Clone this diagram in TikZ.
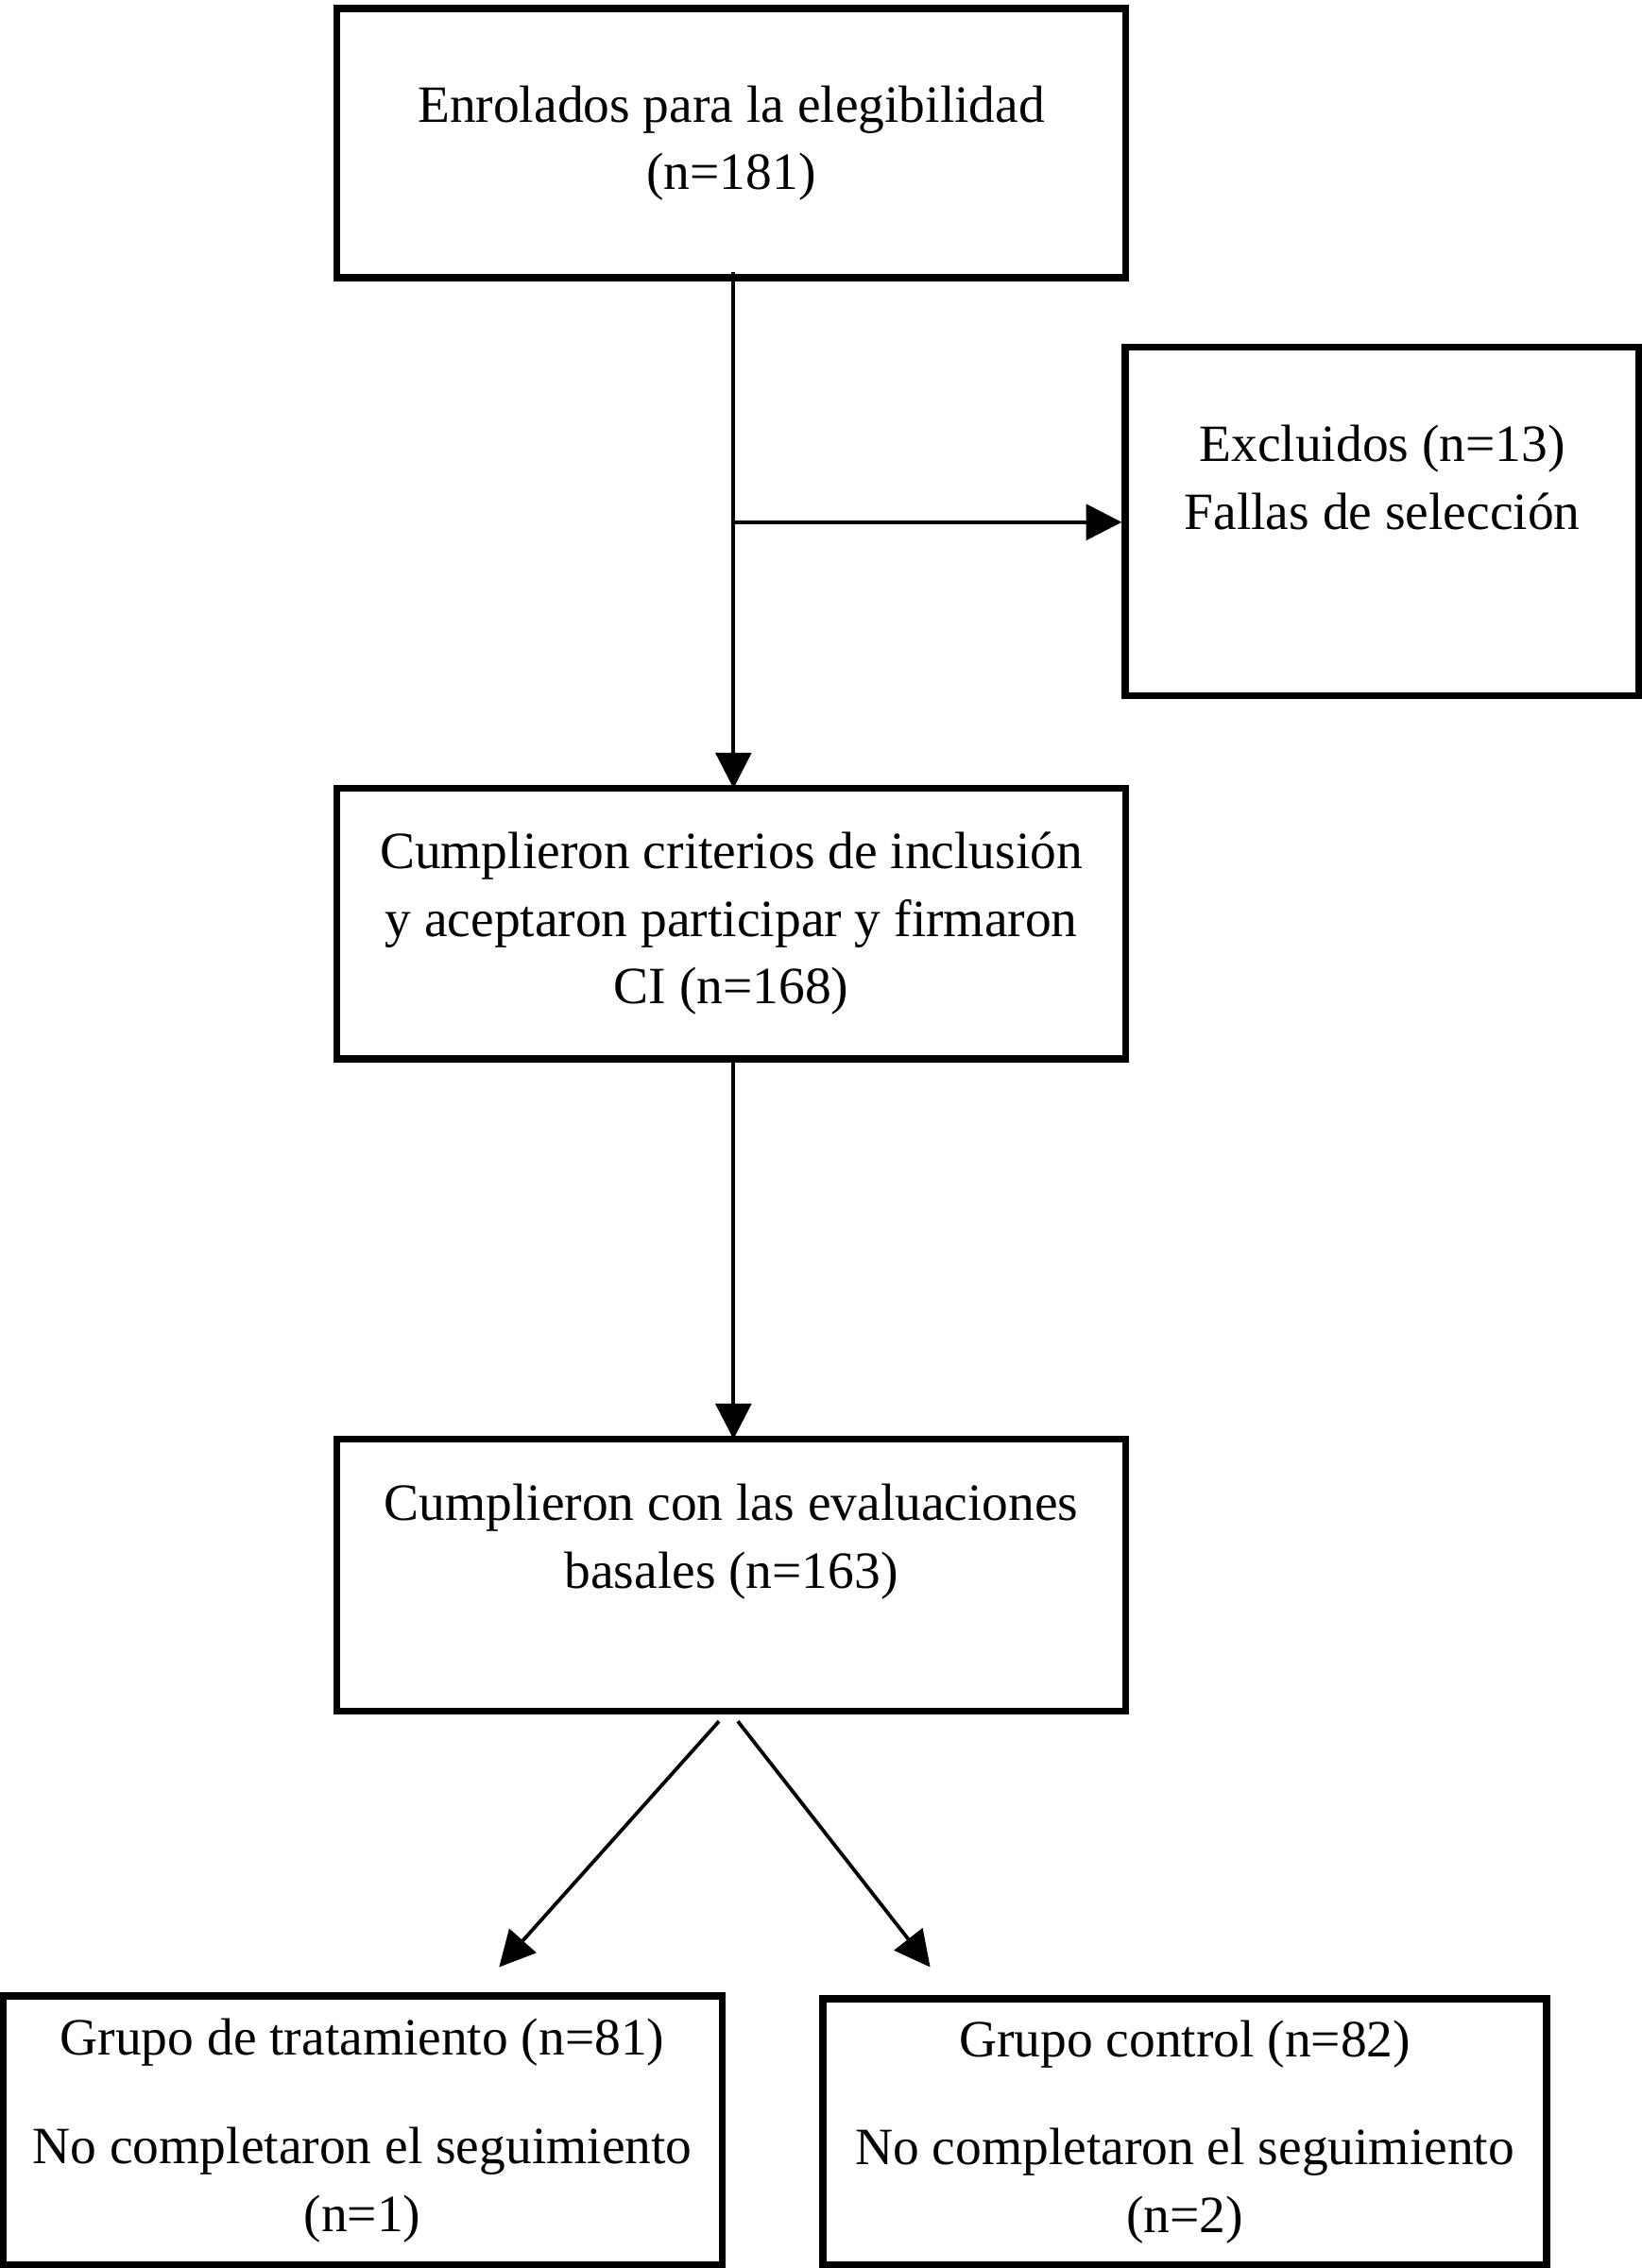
\documentclass[tikz,border=0pt]{standalone}
\usepackage{fontspec}
\setmainfont{Liberation Serif}
\usetikzlibrary{arrows.meta}
\begin{document}
\begin{tikzpicture}[x=0.01cm,y=-0.01cm,
    box/.style={draw,line width=1.4pt,align=center,inner sep=0pt,
      font=\fontsize{10.3}{13.3}\selectfont},
    flow/.style={line width=0.7pt,-{Triangle[length=7pt,width=7pt]}}]
\useasboundingbox (0,0) rectangle (1135,1568);
\node[box,minimum width=5.45cm,minimum height=1.86cm] (enrol) at (505.5,99)
  {Enrolados para la elegibilidad\\(n=181)};
\node[box,minimum width=3.55cm,minimum height=2.41cm] (excl) at (955.5,360.5)
  {Excluidos (n=13)\\Fallas de selección\\[4pt]};
\node[box,minimum width=5.45cm,minimum height=1.87cm] (incl) at (505.5,638.5)
  {Cumplieron criterios de inclusión\\y aceptaron participar y firmaron\\CI (n=168)};
\node[box,minimum width=5.45cm,minimum height=1.88cm] (basal) at (505.5,1089)
  {Cumplieron con las evaluaciones\\basales (n=163)\\[2pt]};
\node[box,minimum width=4.97cm,minimum height=1.86cm] (trat) at (250.5,1473)
  {Grupo de tratamiento (n=81)\\[8pt]No completaron el seguimiento\\(n=1)};
\node[box,minimum width=5.00cm,minimum height=1.84cm] (ctrl) at (819,1474)
  {Grupo control (n=82)\\[8pt]No completaron el seguimiento\\(n=2)};
\coordinate (split) at (507,361);
\draw[flow] (507,188) -- (507,545);
\draw[flow] (split) -- (excl.west|-split);
\draw[flow] (507,732) -- (507,995);
\draw[flow] (497,1190) -- (345,1360);
\draw[flow] (510,1190) -- (643,1360);
\end{tikzpicture}
\end{document}
